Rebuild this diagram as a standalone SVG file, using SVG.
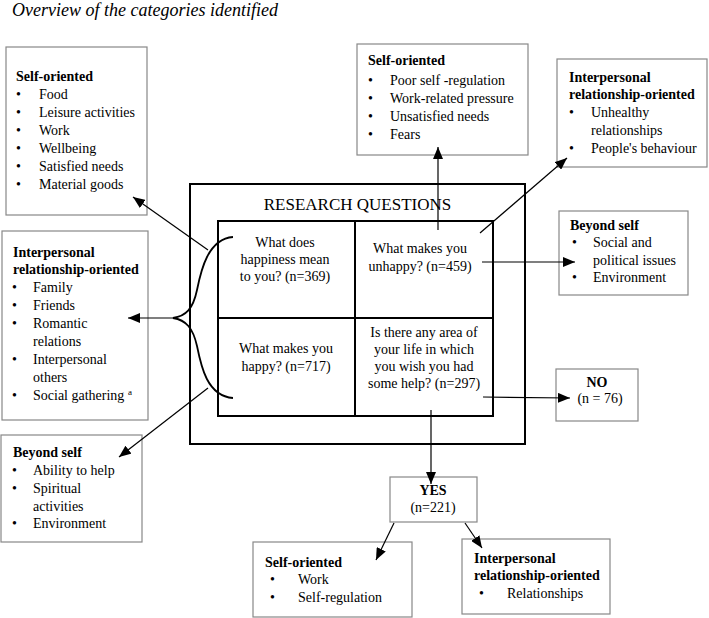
<svg xmlns="http://www.w3.org/2000/svg" width="709" height="618" viewBox="0 0 709 618">
<style>
text{font-family:"Liberation Serif","Times New Roman",serif;font-size:14px;fill:#000}
.b{font-weight:bold}
.c{text-anchor:middle}
.t{font-style:italic;font-size:18px}
.rq{font-size:17px}
.q{font-size:14px}
.g{fill:#fff;stroke:#888;stroke-width:1.2}
.k{fill:none;stroke:#000;stroke-width:2}
.ln{fill:none;stroke:#000;stroke-width:1.2}
.br{fill:none;stroke:#000;stroke-width:1.8}
</style>
<defs>
<marker id="ah" markerWidth="13" markerHeight="10" refX="12" refY="5" orient="auto" markerUnits="userSpaceOnUse">
<path d="M0,0 L12,5 L0,10 Z" fill="#000"/>
</marker>
</defs>
<rect width="709" height="618" fill="#fff"/>
<text class="t" x="12" y="16">Overview of the categories identified</text>

<g id="rq">
<rect class="k" x="190" y="184" width="335" height="260"/>
<text class="rq c" x="357.5" y="210">RESEARCH QUESTIONS</text>
<rect class="k" x="218" y="221" width="275" height="195"/>
<line class="k" x1="355" y1="221" x2="355" y2="416"/>
<line class="k" x1="218" y1="318" x2="493" y2="318"/>
</g>
<g id="q1">
<text class="q c" x="285" y="247">What does</text>
<text class="q c" x="285" y="264">happiness mean</text>
<text class="q c" x="285" y="281">to you? (n=369)</text>
</g>
<g id="q2">
<text class="q c" x="286" y="353">What makes you</text>
<text class="q c" x="286" y="371">happy? (n=717)</text>
</g>
<g id="q3">
<text class="q c" x="420" y="253">What makes you</text>
<text class="q c" x="420" y="271">unhappy? (n=459)</text>
</g>
<g id="q4">
<text class="q c" x="424" y="337">Is there any area of</text>
<text class="q c" x="424" y="354">your life in which</text>
<text class="q c" x="424" y="371">you wish you had</text>
<text class="q c" x="424" y="388">some help? (n=297)</text>
</g>

<g id="self-left">
<rect class="g" x="6" y="47" width="141" height="168"/>
<text class="b" x="16" y="81">Self-oriented</text>
<text x="16" y="99">•</text><text x="39" y="99">Food</text>
<text x="16" y="117">•</text><text x="39" y="117">Leisure activities</text>
<text x="16" y="135">•</text><text x="39" y="135">Work</text>
<text x="16" y="153">•</text><text x="39" y="153">Wellbeing</text>
<text x="16" y="171">•</text><text x="39" y="171">Satisfied needs</text>
<text x="16" y="189">•</text><text x="39" y="189">Material goods</text>
</g>

<g id="self-top">
<rect class="g" x="357" y="44" width="171" height="111"/>
<text class="b" x="368" y="65">Self-oriented</text>
<text x="368" y="85">•</text><text x="390" y="85">Poor self -regulation</text>
<text x="368" y="103">•</text><text x="390" y="103">Work-related pressure</text>
<text x="368" y="121">•</text><text x="390" y="121">Unsatisfied needs</text>
<text x="368" y="139">•</text><text x="390" y="139">Fears</text>
</g>

<g id="inter-top">
<rect class="g" x="557" y="59" width="150" height="108"/>
<text class="b" x="569" y="82">Interpersonal</text>
<text class="b" x="569" y="99">relationship-oriented</text>
<text x="569" y="117">•</text><text x="591" y="117">Unhealthy</text>
<text x="591" y="135">relationships</text>
<text x="569" y="153">•</text><text x="591" y="153">People's behaviour</text>
</g>

<g id="beyond-right">
<rect class="g" x="559" y="211" width="129" height="84"/>
<text class="b" x="570" y="230">Beyond self</text>
<text x="572" y="247">•</text><text x="593" y="247">Social and</text>
<text x="593" y="265">political issues</text>
<text x="572" y="282">•</text><text x="593" y="282">Environment</text>
</g>

<g id="inter-left">
<rect class="g" x="2" y="231" width="146" height="189"/>
<text class="b" x="13" y="257">Interpersonal</text>
<text class="b" x="13" y="274">relationship-oriented</text>
<text x="12" y="292">•</text><text x="33" y="292">Family</text>
<text x="12" y="310">•</text><text x="33" y="310">Friends</text>
<text x="12" y="328">•</text><text x="33" y="328">Romantic</text>
<text x="33" y="346">relations</text>
<text x="12" y="364">•</text><text x="33" y="364">Interpersonal</text>
<text x="33" y="382">others</text>
<text x="12" y="400">•</text><text x="33" y="400">Social gathering <tspan font-size="9" dy="-5">a</tspan></text>
</g>

<g id="no">
<rect class="g" x="556" y="369" width="82" height="52"/>
<text class="b c" x="597" y="387">NO</text>
<text class="c" x="600" y="403">(n = 76)</text>
</g>

<g id="beyond-left">
<rect class="g" x="1" y="435" width="141" height="107"/>
<text class="b" x="13" y="457">Beyond self</text>
<text x="12" y="475">•</text><text x="33" y="475">Ability to help</text>
<text x="12" y="493">•</text><text x="33" y="493">Spiritual</text>
<text x="33" y="511">activities</text>
<text x="12" y="528">•</text><text x="33" y="528">Environment</text>
</g>

<g id="yes">
<rect class="g" x="390" y="477" width="87" height="45"/>
<text class="b c" x="433" y="495">YES</text>
<text class="c" x="433" y="512">(n=221)</text>
</g>

<g id="self-bottom">
<rect class="g" x="253" y="542" width="159" height="75"/>
<text class="b" x="265" y="567">Self-oriented</text>
<text x="270" y="584">•</text><text x="298" y="584">Work</text>
<text x="270" y="602">•</text><text x="298" y="602">Self-regulation</text>
</g>

<g id="inter-bottom">
<rect class="g" x="462" y="539" width="148" height="75"/>
<text class="b" x="474" y="563">Interpersonal</text>
<text class="b" x="474" y="580">relationship-oriented</text>
<text x="479" y="598">•</text><text x="507" y="598">Relationships</text>
</g>

<g id="connectors">
<path class="br" d="M233,237 C208,239 201,270 197,290 C193,309 186,316 173,318 C186,320 193,328 197,346 C201,366 207,396 233,398"/>
<line class="ln" x1="173" y1="318" x2="128" y2="318" marker-end="url(#ah)"/>
<line class="ln" x1="208" y1="250" x2="133" y2="197" marker-end="url(#ah)"/>
<line class="ln" x1="208" y1="388" x2="119" y2="457" marker-end="url(#ah)"/>
<line class="ln" x1="438" y1="230" x2="438" y2="147" marker-end="url(#ah)"/>
<line class="ln" x1="480" y1="233" x2="567" y2="158" marker-end="url(#ah)"/>
<line class="ln" x1="482" y1="262" x2="575" y2="262" marker-end="url(#ah)"/>
<line class="ln" x1="483" y1="397" x2="570" y2="398" marker-end="url(#ah)"/>
<line class="ln" x1="431" y1="410" x2="431" y2="484" marker-end="url(#ah)"/>
<line class="ln" x1="394" y1="523" x2="376" y2="560" marker-end="url(#ah)"/>
<line class="ln" x1="465" y1="523" x2="482" y2="548" marker-end="url(#ah)"/>
</g>
</svg>
